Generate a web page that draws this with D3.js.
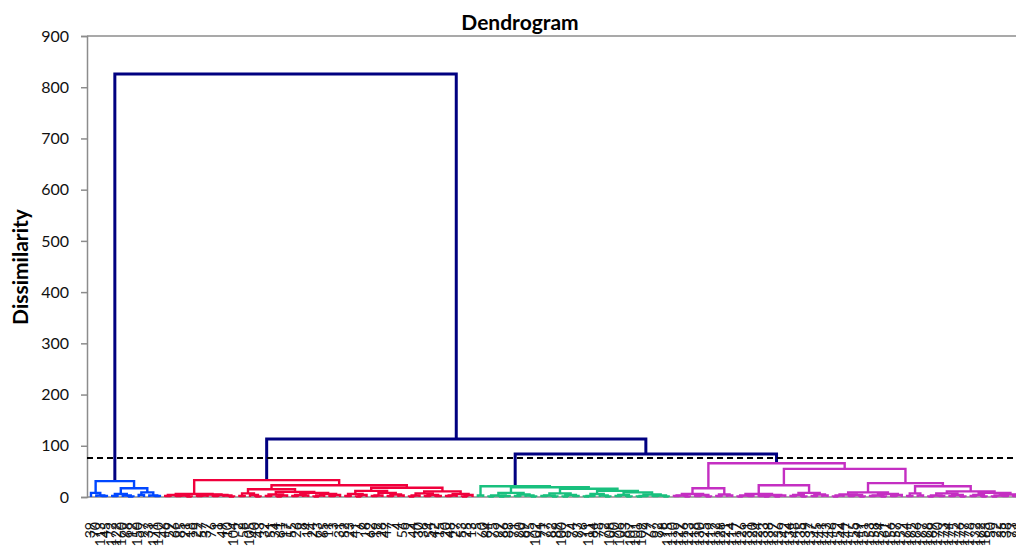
<!DOCTYPE html>
<html>
<head>
<meta charset="utf-8">
<script src="https://cdn.jsdelivr.net/npm/d3@7"></script>
<style>
  body { margin: 0; background: #fff; }
  svg { display: block; font-family: Lato, "Liberation Sans", sans-serif; }
</style>
</head>
<body>
<div id="chart"></div>
<script>
// each merge is [dissimilarity, left, right]; a plain number is an observation label
const blueTree = [31,
  [8, 39, [3, 70, [2, 113, 45]]],
  [17, [6, [2, 172, 122], [3, 160, [1, 68, 12]]],
       [9, [4, 150, 97], [3, 33, [2, 171, 140]]]]];

const redTree = [33,
  [6, [4, [2, 46, 59], [3, [2, 66, 85], [1, 21, 18]]],
      [5, [3, [2, 29, 57], 37], [4, [2, 76, 1], [3, 49, [1, 10, 104]]]]],
  [23,
    [15, [7, [2, 2, 58], [4, 105, [1, 40, 43]]],
         [10, [5, [2, 32, 51], [3, [1, 34, 61], 17]],
              [8, [4, [2, 55, 26], [3, 8, 14]], [6, [3, [1, 24, 63], 65], [4, [2, 11, 3], 31]]]]],
    [18, [12, [6, [2, 52, 23], [4, [1, 41, 6], 16]], [8, [3, [2, 62, 19], 28], [5, [2, 47, 7], [3, 4, 56]]]],
         [11, [7, [3, [1, 9, 44], 30], [4, [2, 36, 54], [2, 42, 15]]], [6, [3, [2, 20, 48], 27], [4, [1, 53, 25], 13]]]]]];

const greenTree = [21,
  [3, 5, 60],
  [19, [8, [3, [1, 64, 75], [2, [1, 99, 86], 88]], [5, [2, 71, 80], [3, 69, [1, 95, 102]]]],
       [16, [7, [3, [2, 91, 77], [1, 82, 89]], [4, [1, 100, 87], [2, 74, 93]]],
            [12, [6, [2, [1, 96, 111], 84], [3, 78, [1, 72, 108]]],
                 [9, [4, [2, 90, 106], [1, 83, 107]], [5, [2, [1, 101, 109], 79], [3, [2, 67, 92], [1, 98, 115]]]]]]]];

const magentaTree = [66,
  [17, [6, [3, [2, 110, 129], [1, 116, 123]], [4, [2, 118, 130], [1, 125, 119]]],
       [5, [2, 112, 128], [3, 121, 114]]],
  [55,
    [23, [6, [3, [1, 117, 126], [2, 131, 120]], [4, [2, 124, [1, 133, 138]], [3, [1, 127, 136], 142]]],
         [8, [4, [2, 134, 148], [1, 135, 139]], [5, [2, 137, 145], [3, 141, 143]]]],
    [27,
      [9, [5, [3, [1, 146, 152], 144], [4, [2, 147, 155], [1, 149, 151]]],
          [6, [3, [2, 153, 158], [1, 154, 161]], [4, [2, 156, 157], 159]]],
      [21, [7, [2, 164, 165], [3, 166, 167]],
           [11, [7, [3, [1, 168, 169], [2, 170, 173]], [4, [2, 174, 175], [1, 176, 177]]],
                [8, [4, [2, 178, 132], [1, 162, 163]], [5, [3, [1, 50, 22], [2, 35, 38]], [4, [2, 73, 81], [1, 94, 103]]]]]]]]];

const topMerges = [826, 113, 84];   // root, red+rest, green+magenta
const clusterColors = ["#0047ff", "#f0003c", "#19c07e", "#c42fc2"];
const yTicks = [0, 100, 200, 300, 400, 500, 600, 700, 800, 900];
const truncation = 76;

const treeData = [topMerges[0], blueTree, [topMerges[1], redTree, [topMerges[2], greenTree, magentaTree]]];
const clusterOf = new Map([[blueTree, 0], [redTree, 1], [greenTree, 2], [magentaTree, 3]]);

const width = 1016, height = 549;
const svg = d3.select("#chart").append("svg")
  .attr("width", width)
  .attr("height", height);

const root = d3.hierarchy(treeData, d => Array.isArray(d) ? [d[1], d[2]] : null);
const leafLabels = root.leaves().map(d => d.data);

const x = d3.scalePoint().domain(leafLabels).range([91, 1029]);
const y = d3.scaleLinear().domain([0, 900]).range([497, 36]);

// positions: leaves on the scale, each merge in the middle of its two branches
root.eachAfter(n => {
  n.h = n.children ? n.data[0] : 0;
  n.cx = n.children ? (n.children[0].cx + n.children[1].cx) / 2 : x(n.data);
  n.cy = y(n.h);
});
root.each(n => {
  if (clusterOf.has(n.data)) n.color = clusterColors[clusterOf.get(n.data)];
  else n.color = n.parent ? n.parent.color : null;
});

// frame
svg.append("line").attr("x1", 87).attr("x2", width).attr("y1", 36).attr("y2", 36)
  .attr("stroke", "#8c8c8c").attr("stroke-width", 1.5);
svg.append("line").attr("x1", 87).attr("x2", width).attr("y1", 497).attr("y2", 497)
  .attr("stroke", "#8c8c8c").attr("stroke-width", 1.5);

const yAxis = svg.append("g")
  .attr("transform", "translate(87,0)")
  .call(d3.axisLeft(y).tickValues(yTicks).tickSize(6).tickPadding(12));
yAxis.select(".domain").attr("stroke", "#8c8c8c").attr("stroke-width", 1.5);
yAxis.selectAll(".tick line").attr("stroke", "#8c8c8c").attr("stroke-width", 1.5);
yAxis.selectAll(".tick text").attr("font-size", 16).attr("fill", "#111")
  .attr("font-family", "Lato, sans-serif");

// branches
svg.append("g").selectAll("path")
  .data(root.descendants().filter(n => n.children))
  .enter()
  .append("path")
  .attr("d", n => {
    const [a, b] = n.children;
    return "M" + a.cx + "," + a.cy + "V" + n.cy + "H" + b.cx + "V" + b.cy;
  })
  .attr("fill", "none")
  .attr("stroke", n => n.color || "#000080")
  .attr("stroke-width", n => n.color ? 2.4 : 3);

// truncation line
svg.append("line")
  .attr("x1", 87).attr("x2", width)
  .attr("y1", y(truncation)).attr("y2", y(truncation))
  .attr("stroke", "#000").attr("stroke-width", 2)
  .attr("stroke-dasharray", "6,4");

// observation labels
svg.append("g").selectAll("text")
  .data(leafLabels)
  .enter()
  .append("text")
  .attr("transform", d => "translate(" + x(d) + ",522) rotate(-90)")
  .attr("text-anchor", "end")
  .attr("dominant-baseline", "middle")
  .attr("font-size", 14)
  .attr("fill", "#111")
  .text(d => d);

svg.append("text")
  .attr("x", 520).attr("y", 30)
  .attr("text-anchor", "middle")
  .attr("font-size", 21).attr("font-weight", "bold")
  .text("Dendrogram");

svg.append("text")
  .attr("transform", "translate(28,267) rotate(-90)")
  .attr("text-anchor", "middle")
  .attr("font-size", 21).attr("font-weight", "bold")
  .text("Dissimilarity");
</script>
</body>
</html>
